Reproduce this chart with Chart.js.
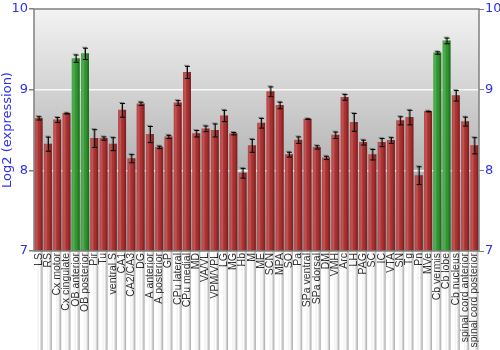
<!DOCTYPE html>
<html>
<head>
<meta charset="utf-8">
<script src="https://cdn.jsdelivr.net/npm/chart.js@4"></script>
<style>
  html, body { margin: 0; padding: 0; background: #fff; }
  #wrap { width: 500px; height: 350px; }
</style>
</head>
<body>
<div id="wrap"><canvas id="exprChart"></canvas></div>
<script>
// regions (x categories)
const regions = ["LS", "RS", "Cx motor", "Cx cingulate", "OB anterior", "OB posterior", "Pir", "Tu",
	"ventral S", "CA1", "CA2/CA3", "DG", "A anterior", "A posterior", "GP", "CPu lateral", "CPu medial",
	"MD", "VA/VL", "VPM/VPL", "LG", "MG", "Hb", "M", "ME", "SCN", "MPA", "SO", "Pa", "SPa ventral",
	"SPa dorsal", "DM", "VMH", "Arc", "LH", "PAG", "SC", "IC", "VTA", "SN", "Tg", "Pn", "MVe",
	"Cb vermis", "Cb lobe", "Cb nucleus", "spinal cord anterior", "spinal cord posterior"];

// log2 expression per region
const expression = [8.65, 8.33, 8.63, 8.71, 9.39, 9.45, 8.40, 8.40,
	8.33, 8.75, 8.15, 8.83, 8.45, 8.29, 8.42, 8.84, 9.22,
	8.46, 8.52, 8.50, 8.68, 8.46, 7.97, 8.31, 8.59, 8.98, 8.81, 8.20, 8.38, 8.64,
	8.29, 8.16, 8.44, 8.91, 8.60, 8.35, 8.20, 8.35, 8.375, 8.62, 8.66, 7.94, 8.735,
	9.46, 9.61, 8.93, 8.61, 8.31];

// error (+/-)
const errors = [0.02, 0.087, 0.03, 0.005, 0.045, 0.07, 0.11, 0.02,
	0.08, 0.085, 0.05, 0.02, 0.1, 0.015, 0.02, 0.03, 0.075,
	0.04, 0.035, 0.08, 0.07, 0.015, 0.06, 0.08, 0.06, 0.06, 0.04, 0.03, 0.04, 0.004,
	0.02, 0.02, 0.04, 0.035, 0.11, 0.03, 0.065, 0.05, 0.035, 0.05, 0.09, 0.11, 0.004,
	0.015, 0.035, 0.065, 0.055, 0.1];

// highlighted (green) regions
const highlighted = ["OB anterior", "OB posterior", "Cb vermis", "Cb lobe"];

// y ticks
const yTicks = [7, 8, 9, 10];

const blue = '#2f2ff0';

// background gradient + frame
const plotBackground = {
	id: 'plotBackground',
	beforeDraw(chart) {
		const { ctx, chartArea: a } = chart;
		const g = ctx.createLinearGradient(0, a.top, 0, a.bottom);
		g.addColorStop(0, '#f3f3f3');
		g.addColorStop(1, '#939393');
		ctx.save();
		ctx.fillStyle = g;
		ctx.fillRect(a.left, a.top, a.right - a.left, a.bottom - a.top);
		ctx.restore();
	},
	afterDraw(chart) {
		const { ctx, chartArea: a } = chart;
		ctx.save();
		ctx.strokeStyle = '#808080';
		ctx.lineWidth = 1.5;
		ctx.strokeRect(a.left, a.top, a.right - a.left, a.bottom - a.top);
		ctx.restore();
	}
};

// shading on bars + error bars
const barDecor = {
	id: 'barDecor',
	afterDatasetsDraw(chart) {
		const { ctx } = chart;
		const meta = chart.getDatasetMeta(0);
		const y = chart.scales.y;
		ctx.save();
		meta.data.forEach((bar, i) => {
			const left = bar.x - bar.width / 2;
			const right = bar.x + bar.width / 2;
			const g = ctx.createLinearGradient(left, 0, right, 0);
			g.addColorStop(0, 'rgba(255,255,255,0.10)');
			g.addColorStop(0.3, 'rgba(255,255,255,0.18)');
			g.addColorStop(0.6, 'rgba(0,0,0,0.0)');
			g.addColorStop(1, 'rgba(0,0,0,0.35)');
			ctx.fillStyle = g;
			ctx.fillRect(left, bar.y, bar.width, bar.base - bar.y);

			// error bar
			const top = y.getPixelForValue(expression[i] + errors[i]);
			const bot = y.getPixelForValue(expression[i] - errors[i]);
			const cap = 2;
			[['rgba(90,90,90,0.6)', 1], ['#000', 0]].forEach(([col, off]) => {
				ctx.strokeStyle = col;
				ctx.lineWidth = 1;
				ctx.beginPath();
				ctx.moveTo(bar.x + 0.5 - off, top);
				ctx.lineTo(bar.x + 0.5 - off, bot);
				ctx.moveTo(bar.x - cap - off, top + 0.5 - off);
				ctx.lineTo(bar.x + cap + 1 - off, top + 0.5 - off);
				ctx.moveTo(bar.x - cap - off, bot + 0.5);
				ctx.lineTo(bar.x + cap + 1 - off, bot + 0.5);
				ctx.stroke();
			});
		});
		ctx.restore();
	}
};

const barColors = regions.map(r => highlighted.includes(r) ? '#2e9a2e' : '#b03030');

new Chart(document.getElementById('exprChart'), {
	type: 'bar',
	data: {
		labels: regions,
		datasets: [{
			data: expression,
			backgroundColor: barColors,
			borderWidth: 0,
			barPercentage: 0.86,
			categoryPercentage: 1.0
		}]
	},
	options: {
		responsive: true,
		maintainAspectRatio: false,
		animation: false,
		devicePixelRatio: 1,
		layout: { padding: { top: 9, right: 0, left: 0, bottom: 0 } },
		plugins: {
			legend: { display: false },
			tooltip: { enabled: false }
		},
		scales: {
			x: {
				grid: { display: false, drawTicks: false, tickLength: 0 },
				border: { display: false },
				ticks: {
					autoSkip: false,
					maxRotation: 90,
					minRotation: 90,
					padding: 2,
					color: '#2a2a2a',
					font: { family: 'Liberation Sans', size: 10.5 }
				},
				afterFit: (scale) => { scale.height = 99; }
			},
			y: {
				position: 'left',
				min: 7,
				max: 10,
				afterBuildTicks: (scale) => { scale.ticks = yTicks.map(v => ({ value: v })); },
				grid: {
					color: (c) => (c.tick && (c.tick.value === 7 || c.tick.value === 10)) ? 'rgba(0,0,0,0)' : 'rgba(255,255,255,0.85)',
					lineWidth: 1.5,
					tickColor: '#808080',
					tickLength: 5
				},
				border: { display: false },
				ticks: {
					color: blue,
					padding: 1,
					font: { family: 'DejaVu Sans', size: 13 }
				},
				title: {
					display: true,
					text: 'Log2 (expression)',
					color: blue,
					padding: { top: 0, bottom: 0 },
					font: { family: 'DejaVu Sans', size: 13 }
				},
				afterFit: (scale) => { scale.width = 34; }
			},
			y2: {
				position: 'right',
				min: 7,
				max: 10,
				afterBuildTicks: (scale) => { scale.ticks = yTicks.map(v => ({ value: v })); },
				grid: {
					drawOnChartArea: false,
					tickColor: '#808080',
					tickLength: 5
				},
				border: { display: false },
				ticks: {
					color: blue,
					padding: 1,
					font: { family: 'DejaVu Sans', size: 13 }
				},
				afterFit: (scale) => { scale.width = 21; }
			}
		}
	},
	plugins: [plotBackground, barDecor]
});
</script>
</body>
</html>
